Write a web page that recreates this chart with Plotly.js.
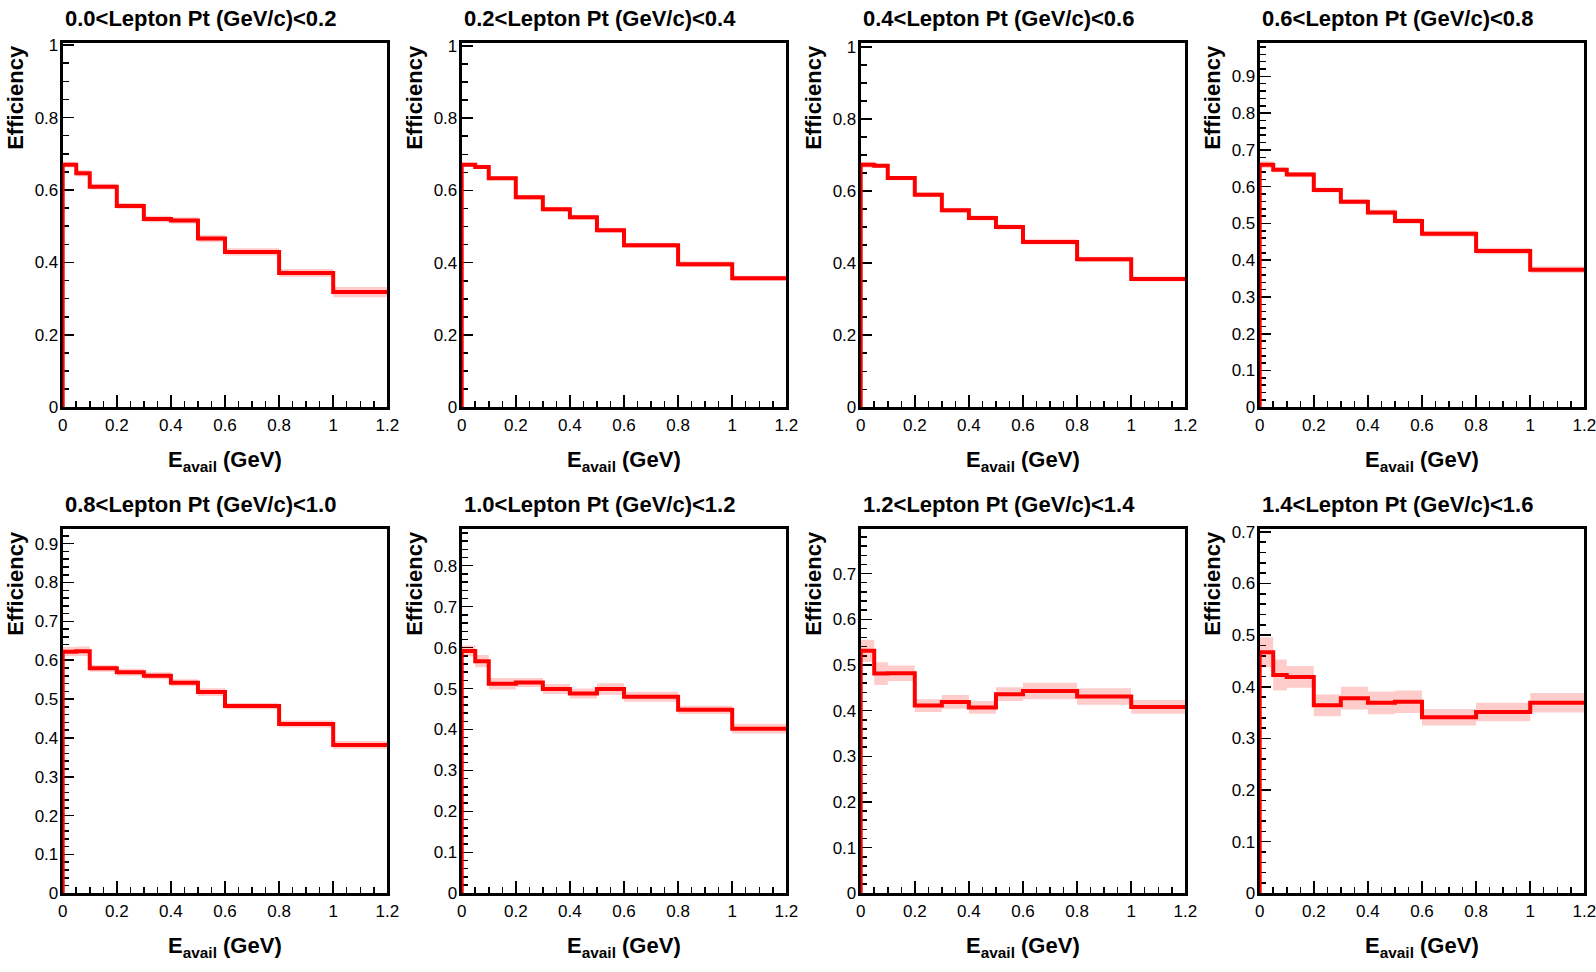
<!DOCTYPE html>
<html>
<head>
<meta charset="utf-8">
<script src="https://cdn.plot.ly/plotly-3.0.1.min.js"></script>
<style>
  body { margin: 0; padding: 0; background: #fff; }
  #plot { width: 1596px; height: 972px; }
</style>
</head>
<body>
<div id="plot"></div>
<script>
// bin edges in E_avail (GeV), shared by every panel
var edges = [0, 0.05, 0.1, 0.2, 0.3, 0.4, 0.5, 0.6, 0.8, 1.0, 1.2];

// lepton pt slices
var ptLo = ['0.0', '0.2', '0.4', '0.6', '0.8', '1.0', '1.2', '1.4'];
var ptHi = ['0.2', '0.4', '0.6', '0.8', '1.0', '1.2', '1.4', '1.6'];

// efficiency per bin, one array per pt slice
var eff_pt0 = [0.670, 0.646, 0.609, 0.556, 0.520, 0.516, 0.466, 0.429, 0.371, 0.318];
var eff_pt1 = [0.671, 0.665, 0.634, 0.581, 0.548, 0.526, 0.490, 0.448, 0.396, 0.357];
var eff_pt2 = [0.673, 0.670, 0.636, 0.590, 0.547, 0.525, 0.500, 0.459, 0.411, 0.356];
var eff_pt3 = [0.660, 0.646, 0.633, 0.591, 0.559, 0.530, 0.507, 0.472, 0.425, 0.374];
var eff_pt4 = [0.622, 0.623, 0.579, 0.569, 0.560, 0.542, 0.518, 0.482, 0.436, 0.382];
var eff_pt5 = [0.592, 0.567, 0.512, 0.515, 0.499, 0.488, 0.499, 0.480, 0.448, 0.402];
var eff_pt6 = [0.531, 0.481, 0.482, 0.411, 0.419, 0.407, 0.436, 0.443, 0.431, 0.408];
var eff_pt7 = [0.467, 0.423, 0.419, 0.364, 0.378, 0.369, 0.371, 0.341, 0.351, 0.369];

// half width of the error band per bin
var err_pt0 = [0.008, 0.009, 0.008, 0.008, 0.009, 0.009, 0.010, 0.010, 0.011, 0.014];
var err_pt1 = [0.006, 0.006, 0.006, 0.007, 0.007, 0.007, 0.007, 0.007, 0.008, 0.007];
var err_pt2 = [0.008, 0.006, 0.006, 0.007, 0.007, 0.007, 0.007, 0.007, 0.007, 0.007];
var err_pt3 = [0.009, 0.007, 0.007, 0.007, 0.007, 0.008, 0.008, 0.008, 0.009, 0.009];
var err_pt4 = [0.012, 0.012, 0.009, 0.009, 0.009, 0.009, 0.010, 0.008, 0.009, 0.010];
var err_pt5 = [0.013, 0.015, 0.014, 0.011, 0.012, 0.012, 0.014, 0.012, 0.010, 0.012];
var err_pt6 = [0.024, 0.025, 0.017, 0.014, 0.015, 0.014, 0.015, 0.018, 0.018, 0.015];
var err_pt7 = [0.029, 0.030, 0.021, 0.021, 0.022, 0.022, 0.022, 0.016, 0.018, 0.019];

// y axis maximum and tick spacing read per panel
var yMax = [1.005, 1.007, 1.01, 0.99, 0.937, 0.889, 0.797, 0.705];
var yDtick = [0.2, 0.2, 0.2, 0.1, 0.1, 0.1, 0.1, 0.1];
var yMinor = [0.05, 0.05, 0.05, 0.02, 0.02, 0.02, 0.02, 0.02];

var effs = [eff_pt0, eff_pt1, eff_pt2, eff_pt3, eff_pt4, eff_pt5, eff_pt6, eff_pt7];
var errs = [err_pt0, err_pt1, err_pt2, err_pt3, err_pt4, err_pt5, err_pt6, err_pt7];

var W = 1596, H = 972;
var padW = W / 4, padH = H / 2;
var frameL = 62.7, frameW = 324.6, frameT = 43.3, frameH = 364;
var FONT = 'Liberation Sans, Arial, Helvetica, sans-serif';

var data = [];
var layout = {
    width: W,
    height: H,
    margin: {l: 0, r: 0, t: 0, b: 0},
    paper_bgcolor: '#fff',
    plot_bgcolor: '#fff',
    showlegend: false,
    barmode: 'overlay',
    font: {family: FONT, color: '#000'},
    annotations: []
};

for (var p = 0; p < 8; p++)
{
    var col = p % 4;
    var row = Math.floor(p / 4);
    var sfx = p == 0 ? '' : String(p + 1);
    var xa = 'x' + sfx, ya = 'y' + sfx;

    // error band: one box per bin
    var cx = [], wd = [], base = [], hgt = [];
    for (var i = 0; i < effs[p].length; i++)
    {
        cx.push((edges[i] + edges[i + 1]) / 2);
        wd.push(edges[i + 1] - edges[i]);
        base.push(effs[p][i] - errs[p][i]);
        hgt.push(2 * errs[p][i]);
    }
    data.push({
        type: 'bar', x: cx, y: hgt, base: base, width: wd,
        marker: {color: 'rgba(255,0,0,0.2)', line: {width: 0}},
        xaxis: xa, yaxis: ya, hoverinfo: 'skip'
    });

    // step line, starting from zero at the first edge
    var sx = [edges[0]], sy = [0];
    for (i = 0; i < effs[p].length; i++)
    {
        sx.push(edges[i]);
        sy.push(effs[p][i]);
    }
    sx.push(edges[edges.length - 1]);
    sy.push(effs[p][effs[p].length - 1]);
    data.push({
        type: 'scatter', mode: 'lines', x: sx, y: sy,
        line: {shape: 'hv', color: '#ff0000', width: 4},
        xaxis: xa, yaxis: ya, hoverinfo: 'skip'
    });

    var x0 = (col * padW + frameL) / W, x1 = (col * padW + frameL + frameW) / W;
    var yTop = row * padH + frameT, yBot = yTop + frameH;

    layout['xaxis' + sfx] = {
        domain: [x0, x1], anchor: ya, range: [0, 1.2],
        dtick: 0.2, tick0: 0, ticks: 'inside', ticklen: 12, tickwidth: 1.5, tickcolor: '#000',
        minor: {dtick: 0.05, tick0: 0, ticks: 'inside', ticklen: 6, tickwidth: 1.5, tickcolor: '#000', showgrid: false},
        showline: true, linecolor: '#000', linewidth: 3, mirror: true,
        showgrid: false, zeroline: false, layer: 'below traces',
        tickfont: {family: FONT, size: 17, color: '#000'}, ticklabelstandoff: 0,
        ticklabeloverflow: 'allow'
    };
    layout['yaxis' + sfx] = {
        domain: [1 - yBot / H, 1 - yTop / H], anchor: xa, range: [0, yMax[p]],
        dtick: yDtick[p], tick0: 0, ticks: 'inside', ticklen: 11, tickwidth: 1.5, tickcolor: '#000',
        minor: {dtick: yMinor[p], tick0: 0, ticks: 'inside', ticklen: 6, tickwidth: 1.5, tickcolor: '#000', showgrid: false},
        showline: true, linecolor: '#000', linewidth: 3, mirror: true,
        showgrid: false, zeroline: false, layer: 'below traces',
        tickfont: {family: FONT, size: 17, color: '#000'}, ticklabelstandoff: -2,
        ticklabeloverflow: 'allow'
    };

    // panel title
    layout.annotations.push({
        xref: 'paper', yref: 'paper', showarrow: false,
        x: x0, xanchor: 'left', y: 1 - (row * padH + 18.5) / H, yanchor: 'middle',
        text: '<b>' + ptLo[p] + '&lt;Lepton Pt (GeV/c)&lt;' + ptHi[p] + '</b>',
        font: {family: FONT, size: 22, color: '#000'}
    });
    // y title
    layout.annotations.push({
        xref: 'paper', yref: 'paper', showarrow: false, textangle: -90,
        x: (col * padW + 16) / W, xanchor: 'center', y: 1 - yTop / H, yanchor: 'top',
        text: '<b>Efficiency</b>',
        font: {family: FONT, size: 22, color: '#000'}
    });
    // x title
    layout.annotations.push({
        xref: 'paper', yref: 'paper', showarrow: false,
        x: (x0 + x1) / 2, xanchor: 'center', y: 1 - (row * padH + 461) / H, yanchor: 'middle',
        text: '<b>E<sub>avail</sub> (GeV)</b>',
        font: {family: FONT, size: 22, color: '#000'}
    });
}

Plotly.newPlot('plot', data, layout, {displayModeBar: false, staticPlot: true});
</script>
</body>
</html>
